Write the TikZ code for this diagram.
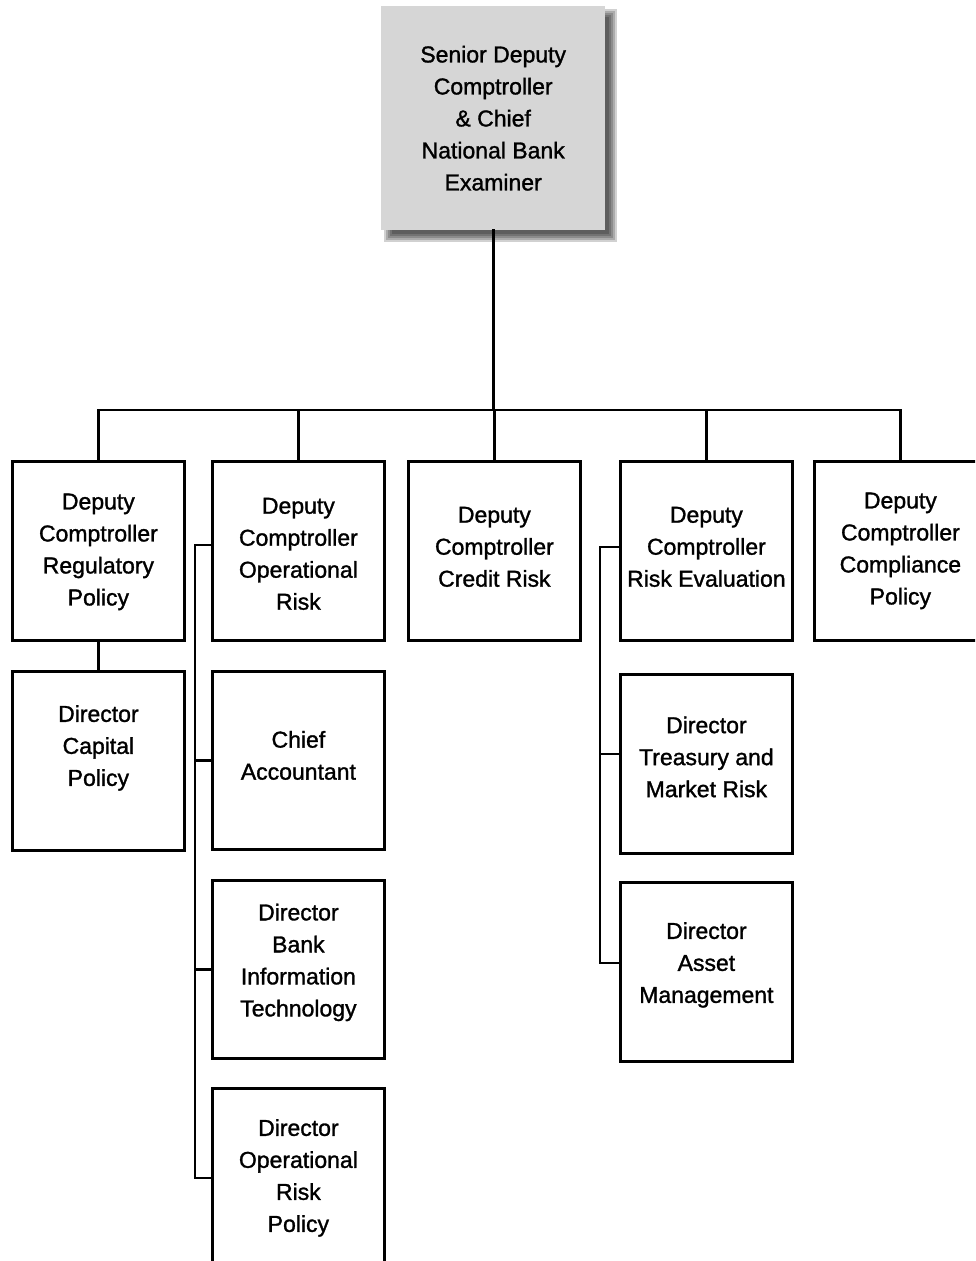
\documentclass[tikz,border=0pt]{standalone}
\usepackage{fontspec}
\setmainfont[FakeBold=1.3]{Liberation Sans}
\begin{document}
\begin{tikzpicture}[x=1pt,y=-1pt,
  orgbox/.style={draw=black, line width=2.8pt, minimum width=172pt, minimum height=179pt, inner sep=0pt, anchor=north west, fill=white},
  topbox/.style={fill=black!16, minimum width=224pt, minimum height=224pt, inner sep=0pt, anchor=north west},
  txt/.style={align=center, font=\fontsize{23}{32}\selectfont, inner sep=0pt},
  conn/.style={line width=2.8pt, line cap=rect}]
\useasboundingbox (0,0) rectangle (975,1261);
\clip (0,0) rectangle (975,1261);
% shadow of top box
\foreach \e in {5,3,1,-1,-3}{
  \fill[black, opacity=0.18] (389-\e,14-\e) rectangle (612+\e,237+\e);
}
\node[topbox] (top) at (381,6) {};
\node[txt] (ttop) at (top.center) {Senior Deputy\\Comptroller\\\& Chief\\National Bank\\Examiner};
% first row
\node[orgbox] (b1) at (11,460) {};
\node[orgbox] (b2) at (211,460) {};
\node[orgbox] (b3) at (407,460) {};
\node[orgbox] (b4) at (619,460) {};
\node[orgbox] (b5) at (813,460) {};
% lower boxes
\node[orgbox] (cap) at (11,670) {};
\node[orgbox, minimum height=178pt] (chief) at (211,670) {};
\node[orgbox, minimum height=178pt] (bit) at (211,879) {};
\node[orgbox] (orp) at (211,1087) {};
\node[orgbox] (tre) at (619,673) {};
\node[orgbox] (asset) at (619,881) {};
% texts
\node[txt] (t1) at ([yshift=-1]b1.center) {Deputy\\Comptroller\\Regulatory\\Policy};
\node[txt] (t2) at ([yshift=-3]b2.center) {Deputy\\Comptroller\\Operational\\Risk};
\node[txt] (t3) at ([yshift=4]b3.center) {Deputy\\Comptroller\\Credit Risk};
\node[txt] (t4) at ([yshift=4]b4.center) {Deputy\\Comptroller\\Risk Evaluation};
\node[txt] (t5) at (b5.center) {Deputy\\Comptroller\\Compliance\\Policy};
\node[txt] (tcap) at ([yshift=13]cap.center) {Director\\Capital\\Policy};
\node[txt] (tchief) at ([yshift=5]chief.center) {Chief\\Accountant};
\node[txt] (tbit) at ([yshift=7]bit.center) {Director\\Bank\\Information\\Technology};
\node[txt] (torp) at (orp.center) {Director\\Operational\\Risk\\Policy};
\node[txt] (ttre) at ([yshift=7]tre.center) {Director\\Treasury and\\Market Risk};
\node[txt] (tasset) at ([yshift=7]asset.center) {Director\\Asset\\Management};
% connectors
\coordinate (bus) at (0,410);
\coordinate (lsp) at (195,0);
\coordinate (rsp) at (600,0);
\draw[conn] (top.south) -- (top.south |- bus);
\draw[conn] (b1.north |- bus) -- (b5.north |- bus);
\draw[conn] (b1.north) -- (b1.north |- bus);
\draw[conn] (b2.north) -- (b2.north |- bus);
\draw[conn] (b3.north) -- (b3.north |- bus);
\draw[conn] (b4.north) -- (b4.north |- bus);
\draw[conn] (b5.north) -- (b5.north |- bus);
\draw[conn] (b1.south) -- (cap.north);
\draw[conn, line cap=butt] ([yshift=6]b2.west) -- ([yshift=6]b2.west -| lsp) -- (orp.west -| lsp) -- (orp.west);
\draw[conn, line cap=butt] (chief.west) -- (chief.west -| lsp);
\draw[conn, line cap=butt] (bit.west) -- (bit.west -| lsp);
\draw[conn, line cap=butt] ([yshift=4]b4.west) -- ([yshift=4]b4.west -| rsp) -- ([yshift=9]asset.west -| rsp) -- ([yshift=9]asset.west);
\draw[conn, line cap=butt] ([yshift=10]tre.west) -- ([yshift=10]tre.west -| rsp);
\end{tikzpicture}
\end{document}
